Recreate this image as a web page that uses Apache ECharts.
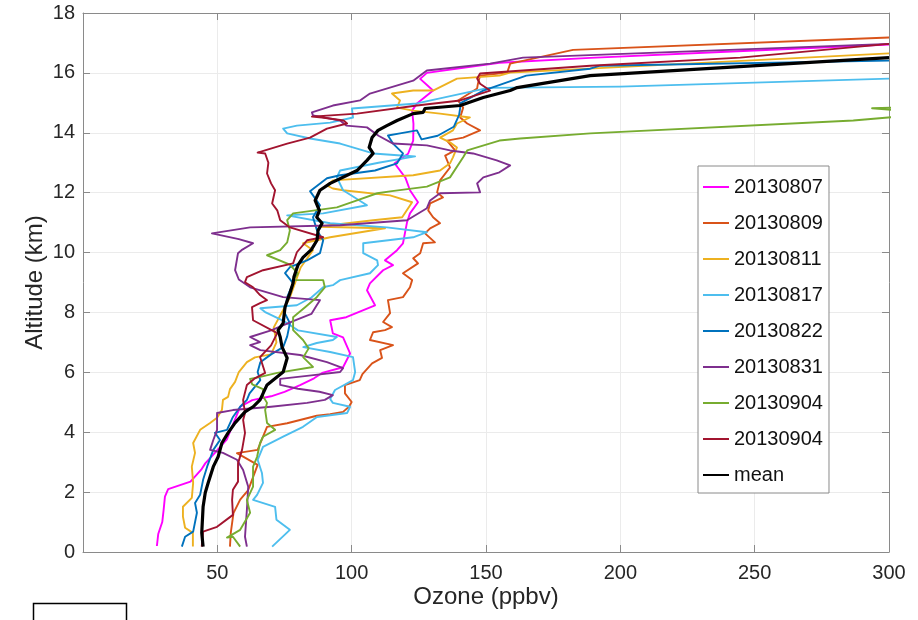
<!DOCTYPE html>
<html>
<head>
<meta charset="utf-8">
<script src="https://cdn.jsdelivr.net/npm/echarts@6/dist/echarts.min.js"></script>
<style>
  html, body { margin: 0; padding: 0; background: #fff; }
  #chart { width: 918px; height: 620px; }
</style>
</head>
<body>
<div id="chart"></div>
<script>
// Ozone soundings: each profile is a list of [ozone (ppbv), altitude (km)] points.
const profileNames = ['20130807', '20130809', '20130811', '20130817', '20130822', '20130831', '20130904', '20130904', 'mean'];

const p20130807 = [[27.5,0.2],[28,0.6],[29.5,1.0],[30,1.4],[30.5,1.85],[31.7,2.1],[40,2.35],[44,2.75],[45.5,2.96],[48.5,3.25],[53.5,3.75],[56,4.3],[58.5,4.85],[63,5.07],[70,5.2],[75,5.35],[80.8,5.57],[86,5.8],[89,5.98],[96.8,6.17],[99.4,6.63],[96.8,7.17],[93,7.3],[92,7.74],[98,7.84],[108.7,8.24],[105.7,8.74],[106.8,8.97],[111.7,9.41],[115.4,9.58],[112.4,9.74],[116.9,10.08],[119.1,10.31],[119.9,10.68],[120.6,11.01],[121.7,11.31],[124.7,11.68],[121.7,12.08],[120,12.5],[116,12.98],[121,13.3],[122.9,13.74],[123,14.3],[122.5,14.74],[124.3,14.98],[130.3,15.41],[125.5,15.8],[128,16.0],[155,16.34],[188.8,16.5],[250,16.75],[300,16.95]];

const p20130809 = [[54.7,0.18],[55,0.64],[56,1.3],[58.5,1.75],[61.5,2.07],[63.3,2.5],[65,2.91],[57.3,3.3],[65,3.41],[67,3.85],[68.5,4.18],[76,4.3],[87,4.55],[92,4.6],[96.8,4.68],[99,4.85],[100,5.01],[97.5,5.3],[97.5,5.57],[103,5.74],[104,5.94],[107.6,6.3],[111.3,6.48],[110.6,6.74],[115.4,6.91],[106.8,7.08],[108,7.34],[112.4,7.41],[115,7.51],[111.7,7.68],[114.3,7.98],[113.5,8.41],[119.1,8.51],[121.7,8.84],[122.5,9.08],[119.1,9.31],[124.7,9.64],[122.9,9.81],[125.5,9.98],[126.6,10.31],[131,10.34],[127.3,10.64],[129.2,10.81],[132.9,10.98],[130.3,11.18],[128.5,11.41],[129.2,11.64],[134,11.84],[131.8,12.01],[132.9,12.41],[136.6,12.84],[134.8,13.24],[138.5,13.41],[135.5,13.74],[141.5,13.84],[147.8,14.08],[143,14.31],[140.4,14.51],[141.5,14.84],[139.6,15.08],[146.7,15.48],[147,15.64],[147.8,15.91],[157.9,16.01],[159,16.31],[182.4,16.77],[300,17.18]];

const p20130811 = [[40.9,0.18],[40.9,0.64],[38,0.81],[37.2,1.18],[37.2,1.51],[40.5,1.81],[41,2.31],[40.5,2.85],[41.7,3.31],[41,3.64],[43.6,4.08],[47.3,4.31],[49.9,4.48],[51.7,4.74],[52.1,5.08],[54,5.18],[54.7,5.44],[56.6,5.68],[58,6.01],[61,6.34],[64,6.5],[70,6.6],[72,7.0],[71,7.5],[74,8.0],[77,8.5],[79,9.0],[81,9.5],[85.6,10.08],[81.9,10.31],[92,10.51],[112.4,10.81],[88,10.86],[92,10.91],[108,11.08],[118.8,11.18],[122.5,11.68],[114.3,11.91],[96.8,12.08],[93,12.14],[90.8,12.24],[93,12.41],[122.9,12.58],[132.9,12.74],[136.6,12.98],[137.7,13.18],[139.2,13.51],[136.6,13.68],[132.9,13.84],[137.7,14.08],[139.2,14.31],[144,14.51],[132.9,14.64],[122.9,14.74],[116.9,14.84],[118,15.08],[115,15.31],[122.9,15.41],[130.3,15.41],[135.5,15.64],[139.2,15.81],[155,15.91],[159,16.01],[300,16.65]];

const p20130817 = [[70.4,0.18],[77,0.74],[72,1.08],[71.5,1.51],[63.3,1.74],[64.8,1.91],[67,2.31],[66.6,2.64],[65,3.08],[67,3.51],[74.5,3.85],[81.9,4.18],[87.1,4.51],[98.3,4.64],[99.4,4.85],[93,4.98],[92,5.11],[93.8,5.41],[100.5,5.74],[101.3,6.01],[100.5,6.51],[92,6.68],[82,6.84],[87,6.98],[93,7.08],[94.5,7.18],[80,7.4],[75,7.7],[68,8.0],[66,8.14],[79.6,8.24],[85,8.5],[89.4,8.84],[93,8.91],[95.7,9.08],[106.8,9.31],[109.8,9.58],[109.5,9.74],[104.3,9.98],[104.3,10.31],[122.9,10.51],[128,10.68],[113.1,10.84],[92,10.98],[76,11.24],[89.4,11.31],[105.7,11.58],[96.8,12.08],[94.5,12.51],[95.7,12.74],[110,13.0],[123.6,13.21],[108,13.31],[95.7,13.64],[84.5,13.81],[76,13.98],[74.5,14.14],[79.6,14.24],[92,14.34],[100.5,14.51],[100.1,14.81],[124.3,14.98],[150.8,15.5],[200,15.54],[300,15.81]];

const p20130822 = [[36.8,0.18],[38,0.51],[41,0.68],[42.4,1.31],[41.7,1.64],[43.6,1.91],[44.7,2.41],[46.2,2.85],[48.5,3.41],[51,3.74],[49.1,3.98],[53.6,4.08],[55.8,4.51],[58.5,4.85],[61,5.08],[62,5.3],[66,5.74],[65,6.01],[66,6.34],[70,6.6],[74.5,6.84],[76,7.2],[77,7.64],[75,8.0],[76,8.51],[78.2,8.98],[75.2,9.31],[77,9.51],[83.4,9.74],[88.2,9.98],[89.4,10.41],[87.1,10.74],[85.6,11.18],[88.2,11.58],[84.5,12.05],[90.8,12.48],[95.7,12.58],[108.7,12.74],[116.9,12.98],[119.1,13.31],[115.4,13.64],[113.5,13.91],[118,13.98],[124.3,14.08],[126,13.78],[132,13.9],[138,14.2],[140,14.6],[140.4,14.84],[140.4,14.98],[149,15.41],[165,15.91],[188.8,16.14],[192.5,16.24],[300,16.41]];

const p20130831 = [[61,0.18],[60.3,0.51],[61,1.41],[61.5,2.18],[59.6,2.74],[57.3,3.08],[52.1,3.31],[47.3,3.41],[48.5,3.74],[49.9,4.08],[49.9,4.64],[55.8,4.74],[70,4.85],[83.4,4.98],[90,5.08],[93,5.24],[88,5.35],[80,5.45],[73.4,5.58],[73.4,5.78],[85,5.9],[95.7,6.01],[96.8,6.14],[90.8,6.34],[80.8,6.58],[66,6.74],[62.2,6.91],[65.9,7.01],[62.2,7.18],[70,7.4],[78,7.7],[85,7.95],[87,8.24],[88.2,8.41],[74.5,8.51],[62.2,8.84],[58,9.1],[56.6,9.41],[57.7,9.98],[59,10.08],[63.3,10.31],[58,10.45],[48,10.64],[62.2,10.84],[95.7,10.91],[120.6,11.08],[128,11.48],[129.2,11.74],[132.9,11.98],[147.8,12.01],[146.7,12.31],[149,12.51],[155,12.68],[159,12.91],[154,13.08],[145.2,13.31],[136.6,13.41],[128,13.58],[115.4,13.64],[110,13.9],[105.7,14.18],[98,14.24],[95.7,14.41],[85.6,14.58],[85.2,14.68],[93,14.91],[103.1,15.08],[106.8,15.31],[122.9,15.74],[125.5,15.91],[128,16.08],[151.5,16.31],[163.8,16.51],[300,16.97]];

const p20130904a = [[58.5,0.18],[55.8,0.51],[53.6,0.48],[58.5,0.74],[62.2,1.31],[61,1.74],[63.3,2.18],[63.3,2.85],[64.8,3.18],[65.9,3.64],[67,3.85],[71.5,4.08],[68.5,4.31],[67.8,4.74],[68.5,4.98],[67,5.2],[67,5.44],[63,5.6],[62.2,5.78],[66,5.85],[72.3,5.98],[85.6,6.18],[82,6.5],[84,6.8],[81.9,7.08],[78.2,7.41],[78.2,7.84],[83,8.2],[87,8.51],[90,8.84],[89.4,9.08],[78.2,9.08],[80,9.3],[77,9.6],[68.5,9.91],[73.4,10.08],[76,10.34],[77,10.74],[76,11.08],[78.2,11.31],[94.5,11.51],[102,11.74],[109.5,11.98],[115,12.05],[128,12.2],[136.6,12.51],[141.5,13.18],[143,13.41],[155,13.74],[162.7,13.81],[188.8,13.98],[286.7,14.41],[305,14.55],[310,14.7],[293.7,14.82],[310,14.87]];

const p20130904b = [[44.2,0.18],[44.7,0.68],[49.9,0.84],[55.8,1.24],[55.5,1.74],[55.8,2.08],[57.7,2.35],[57.7,2.96],[59.2,3.41],[60.3,3.98],[59.6,4.41],[60.3,4.64],[59.6,5.08],[61,5.58],[64,5.8],[67.8,5.98],[65.9,6.51],[70,6.9],[72.3,7.31],[63.3,7.74],[62.9,8.18],[65.9,8.31],[68.5,8.41],[65.9,8.58],[63.3,8.84],[60.3,9.01],[61,9.18],[67,9.41],[78.2,9.64],[79.6,10.01],[83.4,10.41],[89.4,10.51],[77,10.84],[73.4,11.08],[72.3,11.41],[70.4,11.64],[71.5,12.08],[70,12.31],[68.5,12.64],[69,13.0],[67.8,13.31],[65,13.34],[76,13.64],[84.5,13.84],[90.8,14.14],[98.3,14.31],[97,14.41],[89,14.51],[85.2,14.54],[102,14.64],[124.3,14.91],[140.4,15.08],[151.5,15.41],[147.8,15.64],[146.7,15.81],[147.8,15.98],[188.8,16.24],[244.6,16.51],[300,16.97]];

const pMean = [[44.7,0.18],[44.2,0.64],[44.7,1.51],[45.5,1.98],[46.6,2.31],[48.5,2.85],[50.3,3.18],[51.7,3.64],[54,3.98],[56.6,4.31],[60.3,4.68],[63.3,4.85],[65.9,5.08],[68.5,5.58],[74.5,6.01],[76,6.48],[74.1,6.84],[73.4,7.18],[72.6,7.41],[74.5,7.64],[75.2,8.18],[77,8.64],[78.2,8.98],[78.5,9.18],[80,9.58],[81.9,9.84],[85,10.1],[87.1,10.41],[87.5,10.74],[89,10.98],[87,11.18],[88,11.4],[86.4,11.74],[88.2,12.08],[92,12.31],[102,12.74],[105.7,13.08],[108,13.31],[106.5,13.51],[107.6,13.84],[109.8,14.08],[113.1,14.24],[116.9,14.41],[122.9,14.64],[126.6,14.68],[127.3,14.81],[140.4,14.91],[149,15.18],[159,15.41],[161.6,15.51],[188.8,15.91],[300,16.51]];

const profiles = [p20130807, p20130809, p20130811, p20130817, p20130822, p20130831, p20130904a, p20130904b, pMean];
const profileColors = ['#FF00FF', '#D95319', '#EDB120', '#4DBEEE', '#0072BD', '#7E2F8E', '#77AC30', '#A2142F', '#000000'];

const xTicks = [0, 50, 100, 150, 200, 250, 300];
const yTicks = [0, 2, 4, 6, 8, 10, 12, 14, 16, 18];

const FONT = '"Liberation Sans", Arial, Helvetica, sans-serif';
const INK = '#262626';
const FRAME = '#8a8a8a';

// Series names carry an index suffix so that the two "20130904" profiles stay distinct.
const seriesKey = (name, i) => name + '|' + i;

const series = profiles.map((pts, i) => ({
  name: seriesKey(profileNames[i], i),
  type: 'line',
  data: pts,
  symbol: 'none',
  clip: true,
  z: i === 8 ? 10 : 2,
  lineStyle: { color: profileColors[i], width: i === 8 ? 3.2 : 1.9, join: 'round' },
  itemStyle: { color: profileColors[i] },
  emphasis: { disabled: true },
  animation: false
}));

const chart = echarts.init(document.getElementById('chart'), null, { renderer: 'canvas' });

const tickInside = { show: true, inside: true, length: 7, lineStyle: { color: FRAME, width: 1 } };

chart.setOption({
  animation: false,
  backgroundColor: '#ffffff',
  grid: { left: 83, right: 29, top: 13, bottom: 68, containLabel: false },
  xAxis: [{
    type: 'value', position: 'bottom', min: xTicks[0], max: xTicks[xTicks.length - 1], interval: 50,
    name: 'Ozone (ppbv)', nameLocation: 'middle', nameGap: 33, nameMoveOverlap: false,
    nameTextStyle: { fontFamily: FONT, fontSize: 24, color: INK },
    axisLine: { show: true, onZero: false, lineStyle: { color: FRAME, width: 1 } },
    axisTick: tickInside,
    axisLabel: { fontFamily: FONT, fontSize: 20, color: INK, margin: 11, showMinLabel: false,
      formatter: v => (xTicks.indexOf(v) > 0 ? String(v) : '') },
    splitLine: { show: true, lineStyle: { color: '#ebebeb', width: 1 } }
  }, {
    type: 'value', position: 'top', min: xTicks[0], max: xTicks[xTicks.length - 1], interval: 50,
    axisLine: { show: true, onZero: false, lineStyle: { color: FRAME, width: 1 } },
    axisTick: tickInside, axisLabel: { show: false }, splitLine: { show: false }
  }],
  yAxis: [{
    type: 'value', position: 'left', min: yTicks[0], max: yTicks[yTicks.length - 1], interval: 2,
    name: 'Altitude (km)', nameLocation: 'middle', nameGap: 36, nameRotate: 90, nameMoveOverlap: false,
    nameTextStyle: { fontFamily: FONT, fontSize: 24, color: INK },
    axisLine: { show: true, onZero: false, lineStyle: { color: FRAME, width: 1 } },
    axisTick: tickInside,
    axisLabel: { fontFamily: FONT, fontSize: 20, color: INK, margin: 8 },
    splitLine: { show: true, lineStyle: { color: '#ebebeb', width: 1 } }
  }, {
    type: 'value', position: 'right', min: yTicks[0], max: yTicks[yTicks.length - 1], interval: 2,
    axisLine: { show: true, onZero: false, lineStyle: { color: FRAME, width: 1 } },
    axisTick: tickInside, axisLabel: { show: false }, splitLine: { show: false }
  }],
  legend: {
    orient: 'vertical',
    left: 698, top: 166,
    padding: [11, 6, 8, 4],
    itemWidth: 26, itemHeight: 20, itemGap: 16,
    backgroundColor: '#ffffff',
    borderColor: FRAME, borderWidth: 1,
    itemStyle: { opacity: 0 },
    textStyle: { fontFamily: FONT, fontSize: 20, color: '#111' },
    formatter: name => name.split('|')[0],
    data: profileNames.map((n, i) => seriesKey(n, i)),
    selectedMode: false
  },
  graphic: [{
    type: 'rect',
    shape: { x: 33.5, y: 603.5, width: 93, height: 30 },
    style: { fill: 'none', stroke: '#000', lineWidth: 1.5 },
    silent: true
  }],
  series: series
});
</script>
</body>
</html>
